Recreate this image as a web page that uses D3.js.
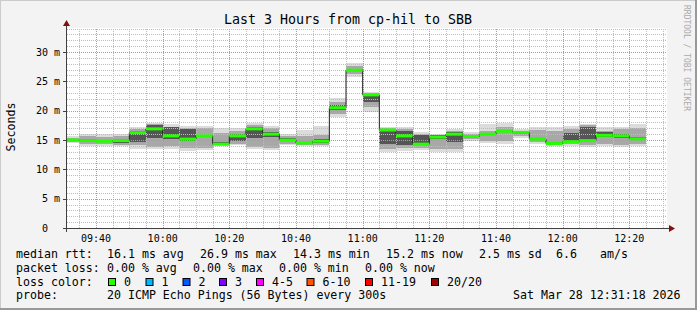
<!DOCTYPE html>
<html>
<head>
<meta charset="utf-8">
<script src="https://cdn.jsdelivr.net/npm/d3@7/dist/d3.min.js"></script>
<style>
  body { margin: 0; background: #f3f3f3; }
  svg { display: block; font-family: "DejaVu Sans Mono", monospace; }
  text { white-space: pre; }
</style>
</head>
<body>
<div id="chart"></div>
<script>
// one value per 5 minute step, 09:35 .. 12:25 (ms)
var medianRtt = [15.0,14.9,14.8,14.9,16.25,16.9,15.7,15.15,15.7,14.3,15.7,16.9,16.0,15.0,14.5,14.8,20.5,26.9,22.7,16.7,15.7,14.3,15.5,16.0,15.6,16.0,16.5,16.3,15.15,14.4,14.7,14.9,15.8,15.7,15.2]
var smokeMin  = [14.5,14.0,14.0,13.9,13.5,13.4,13.4,13.2,13.3,13.9,14.1,13.4,13.3,14.1,13.9,13.9,19.0,25.8,19.8,13.0,13.2,13.3,13.0,13.0,14.9,14.5,14.4,15.3,14.3,14.0,14.0,13.75,14.0,13.75,14.0]
var smokeMax  = [15.7,16.0,16.1,16.0,17.2,17.85,17.7,17.4,17.4,17.0,17.0,17.95,17.4,16.1,16.7,17.4,22.1,28.1,23.2,17.3,17.3,16.4,16.1,16.8,16.4,17.7,17.85,16.8,17.3,17.3,17.4,17.7,17.2,17.2,17.7]
var midLo     = [14.7,14.3,14.3,14.2,14.2,13.8,13.9,13.6,13.6,14.2,14.4,13.8,13.7,14.4,14.1,14.1,19.5,26.2,20.6,13.5,13.6,13.7,13.5,13.5,15.1,14.8,14.9,15.6,14.6,14.3,14.3,14.1,14.4,14.1,14.4]
var midHi     = [15.4,15.6,15.5,15.6,16.9,17.7,17.3,17.0,17.0,16.2,16.5,17.6,17.0,15.6,15.7,15.9,21.5,27.7,23.0,17.0,16.9,16.0,15.9,16.5,16.1,16.6,17.2,16.6,16.7,16.5,16.8,17.5,16.6,16.8,17.0]
var coreLo    = [14.9,14.6,14.6,14.5,14.7,15.3,15.2,14.8,15.5,14.2,14.8,15.3,15.5,14.8,14.3,14.5,20.2,26.8,21.5,14.3,14.2,14.1,15.2,14.6,15.4,15.8,16.3,16.1,15.0,14.3,14.6,14.6,15.5,15.4,15.0]
var coreHi    = [15.2,15.1,15.0,15.2,16.6,17.55,17.2,16.8,15.9,14.6,16.1,17.3,16.3,15.3,14.7,15.1,20.9,27.1,22.8,16.9,16.6,15.9,15.8,16.3,15.8,16.2,16.7,16.5,15.3,14.6,16.2,17.3,16.3,16.0,15.5]

var yTicks = [0, 5, 10, 15, 20, 25, 30]
var yTickLabels = ["0  ", "5 m", "10 m", "15 m", "20 m", "25 m", "30 m"]

var lossLabels = ["0", "1", "2", "3", "4-5", "6-10", "11-19", "20/20"]
var lossColors = ["#26ff00", "#00b8ff", "#0059ff", "#7e00ff", "#ff00ff", "#ff5500", "#ff0000", "#a10000"]
var lossX = [108, 145.5, 182.5, 219, 256, 306.5, 365, 431]

var W = 697, H = 310
var margin = {top: 28, left: 67},
    width = 600,
    height = 200

var tStart = new Date(2026, 2, 28, 9, 31, 18),
    tEnd = new Date(2026, 2, 28, 12, 31, 18),
    firstStep = new Date(2026, 2, 28, 9, 35, 0)

var svg = d3.select("#chart").append("svg")
    .attr("width", W)
    .attr("height", H)

// frame
svg.append("rect").attr("width", W).attr("height", H).attr("fill", "#f3f3f3")
svg.append("path").attr("d", "M0,309V0H697").attr("fill", "none").attr("stroke", "#cbcbcb").attr("stroke-width", 2)
svg.append("path").attr("d", "M0,309H696V0").attr("fill", "none").attr("stroke", "#999999").attr("stroke-width", 2)

var g = svg.append("g")
    .attr("transform", "translate(" + margin.left + "," + margin.top + ")")

var x = d3.scaleTime().domain([tStart, tEnd]).range([0, width])
var y = d3.scaleLinear().domain([0, 200 * 5 / 29.33]).range([height, 0])

g.append("rect").attr("width", width).attr("height", height).attr("fill", "#ffffff")

// step boundaries
var steps = medianRtt.map(function(d, i) {
  var end = d3.timeMinute.offset(firstStep, 5 * i)
  var start = d3.timeMinute.offset(end, -5)
  if (start < tStart) start = tStart
  return {i: i, x0: x(start), x1: x(end)}
})

var smoke = g.append("g").attr("shape-rendering", "crispEdges")
function band(lo, hi, color) {
  smoke.selectAll(null).data(steps).enter().append("rect")
    .attr("x", function(d) { return d.x0 })
    .attr("width", function(d) { return d.x1 - d.x0 })
    .attr("y", function(d) { return y(hi[d.i]) })
    .attr("height", function(d) { return y(lo[d.i]) - y(hi[d.i]) })
    .attr("fill", color)
}
band(smokeMin, smokeMax, "#dcdcdc")
band(midLo, midHi, "#a8a8a8")
band(coreLo, coreHi, "#555555")

// dotted grid, one 1x1 square per dot
var grid = g.append("g").attr("shape-rendering", "crispEdges")
function dotPath(rows, cols) {
  var s = ""
  rows.forEach(function(r) {
    cols.forEach(function(c) { s += "M" + c + "," + r + "h1v1h-1z" })
  })
  return s
}
function hDots(vals) {
  var rows = vals.map(function(d) { return Math.round(y(d)) })
  return dotPath(rows, d3.range(0, width, 2))
}
function vDots(vals) {
  var s = ""
  vals.forEach(function(d) {
    var c = Math.round(x(d))
    d3.range(1, height, 2).forEach(function(r) { s += "M" + c + "," + r + "h1v1h-1z" })
  })
  return s
}
var minorY = d3.range(1, 35).filter(function(v) { return v % 5 != 0 })
var minorX = x.ticks(d3.timeMinute.every(5)).filter(function(t) { return t.getMinutes() % 20 != 0 })
var majorX = x.ticks(d3.timeMinute.every(20))
grid.append("path").attr("d", hDots(minorY) + vDots(minorX)).attr("fill", "#bdbdbd")
grid.append("path").attr("d", hDots(yTicks.slice(1)) + vDots(majorX)).attr("fill", "#f07f7f")

// median line (black step) and loss-coloured band
var pts = []
steps.forEach(function(d) {
  pts.push([d.x0, y(medianRtt[d.i])])
  pts.push([d.x1, y(medianRtt[d.i])])
})
g.append("path")
  .attr("d", d3.line()(pts))
  .attr("fill", "none")
  .attr("stroke", "#202020")
  .attr("stroke-width", 1)
g.append("g").selectAll("rect").data(steps).enter().append("rect")
  .attr("x", function(d) { return d.x0 })
  .attr("width", function(d) { return d.x1 - d.x0 })
  .attr("y", function(d) { return y(medianRtt[d.i]) - 1.5 })
  .attr("height", 3)
  .attr("fill", lossColors[0])

// axes
var ax = g.append("g").attr("shape-rendering", "crispEdges")
ax.append("line").attr("x1", -4).attr("x2", width + 4).attr("y1", height + 0.5).attr("y2", height + 0.5).attr("stroke", "#404040")
ax.append("line").attr("x1", -0.5).attr("x2", -0.5).attr("y1", height + 4).attr("y2", -4).attr("stroke", "#404040")
ax.selectAll(null).data(yTicks).enter().append("line")
  .attr("x1", -4).attr("x2", -1)
  .attr("y1", function(d) { return Math.round(y(d)) + 0.5 })
  .attr("y2", function(d) { return Math.round(y(d)) + 0.5 })
  .attr("stroke", "#404040")
g.append("path").attr("d", "M-4,-2L-0.5,-8L3,-2Z").attr("fill", "#7f1010")
g.append("path").attr("d", "M" + (width + 2) + "," + (height - 3) + "L" + (width + 8) + "," + (height + 0.5) + "L" + (width + 2) + "," + (height + 4) + "Z").attr("fill", "#7f1010")

g.selectAll(null).data(yTicks).enter().append("text")
  .attr("x", -7)
  .attr("y", function(d) { return y(d) + 3.5 })
  .attr("text-anchor", "end")
  .attr("font-size", 10)
  .attr("fill", "#000")
  .text(function(d, i) { return yTickLabels[i] })

g.selectAll(null).data(majorX).enter().append("text")
  .attr("x", function(d) { return x(d) })
  .attr("y", height + 14)
  .attr("text-anchor", "middle")
  .attr("font-size", 10)
  .text(d3.timeFormat("%H:%M"))

// titles
svg.append("text").attr("x", 348).attr("y", 24).attr("text-anchor", "middle")
  .attr("font-size", 13.3).text("Last 3 Hours from cp-hil to SBB")
svg.append("text").attr("transform", "translate(15,127) rotate(-90)").attr("text-anchor", "middle")
  .attr("font-size", 11.6).text("Seconds")
svg.append("text").attr("transform", "translate(684,5) rotate(90)")
  .attr("font-size", 8).attr("fill", "#aaaaaa").text("RRDTOOL / TOBI OETIKER")

// legend
var legend = svg.append("g").attr("font-size", 11.6)
var rows = [
  [[16, "median rtt:"], [107, "16.1 ms avg"], [200, "26.9 ms max"], [293, "14.3 ms min"], [386, "15.2 ms now"], [479, "2.5 ms sd"], [556, "6.6"], [600, "am/s"]],
  [[16, "packet loss:"], [107, "0.00 % avg"], [193, "0.00 % max"], [279, "0.00 % min"], [365, "0.00 % now"]],
  [[16, "loss color:"]],
  [[16, "probe:"], [107, "20 ICMP Echo Pings (56 Bytes) every 300s"], [513, "Sat Mar 28 12:31:18 2026"]]
]
var rowY = [258, 272, 285.5, 299]
rows.forEach(function(r, k) {
  legend.selectAll(null).data(r).enter().append("text")
    .attr("x", function(d) { return d[0] })
    .attr("y", rowY[k])
    .text(function(d) { return d[1] })
})
legend.selectAll(null).data(lossLabels).enter().append("rect")
  .attr("x", function(d, i) { return lossX[i] + 0.5 })
  .attr("y", 278.5)
  .attr("width", 7).attr("height", 7)
  .attr("fill", function(d, i) { return lossColors[i] })
  .attr("stroke", "#000")
legend.selectAll(null).data(lossLabels).enter().append("text")
  .attr("x", function(d, i) { return lossX[i] + 16 })
  .attr("y", rowY[2])
  .text(function(d) { return d })
</script>
</body>
</html>
